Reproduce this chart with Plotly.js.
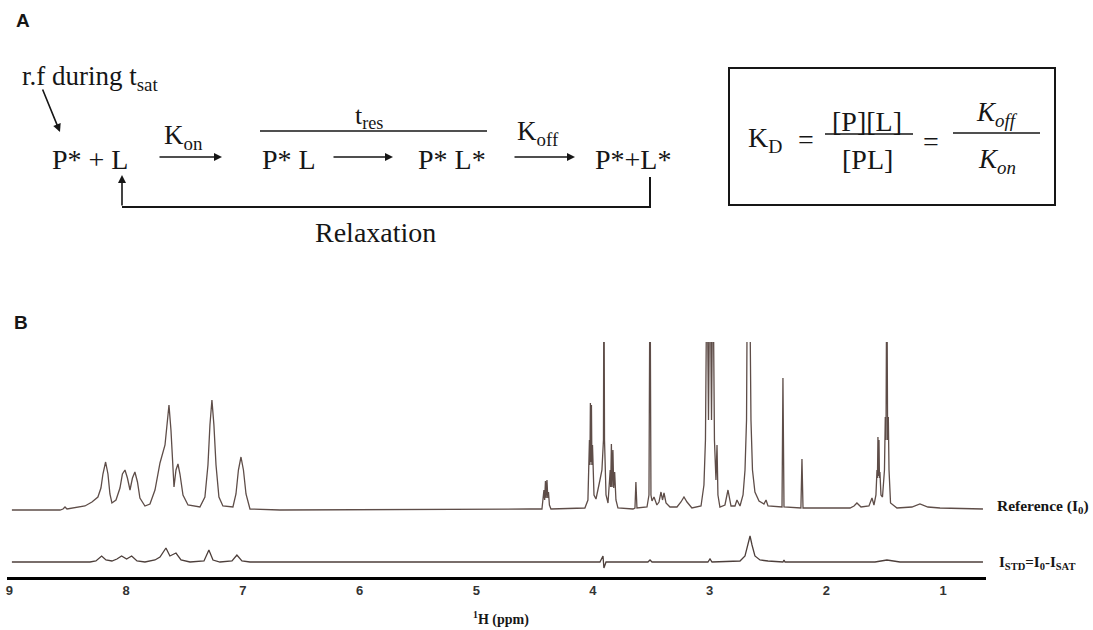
<!DOCTYPE html>
<html>
<head>
<meta charset="utf-8">
<script src="https://cdn.plot.ly/plotly-3.0.1.min.js"></script>
<style>html,body{margin:0;padding:0;background:#fff;}#chart{width:1093px;height:630px;}</style>
</head>
<body>
<div id="chart"></div>
<script>
// ---------- DATA (chemical shift in ppm, intensity) ----------
const refAromaticPpm = [8.979,8.567,8.541,8.524,8.507,8.353,8.293,8.242,8.216,8.199,8.176,8.156,8.139,8.122,8.087,8.053,8.032,8.010,7.989,7.967,7.946,7.925,7.903,7.882,7.839,7.796,7.753,7.710,7.667,7.650,7.633,7.616,7.590,7.573,7.556,7.539,7.513,7.470,7.368,7.325,7.299,7.282,7.265,7.248,7.230,7.205,7.171,7.085,7.059,7.038,7.016,6.995,6.973,6.939,6.682];
const refAromaticInt = [-1,-1,0,2,0,3,7,12,21,35,47,35,15,6,9,21,35,39,31,19,31,37,27,11,3,5,19,46,64,84,104,79,22,39,45,35,14,4,2,12,44,84,109,84,44,12,3,2,15,39,52,39,15,0,-1];

const refAliphaticPpm = [4.540,4.437,4.420,4.414,4.407,4.401,4.394,4.387,4.381,4.373,4.360,
 4.069,4.043,4.030,4.026,4.022,4.017,4.013,4.009,4.004,3.991,3.974,3.940,3.923,3.910,3.906,3.901,3.888,3.871,3.858,3.852,3.848,3.842,3.836,3.829,3.822,3.814,3.803,3.786,
 3.657,3.640,3.632,3.623,3.537,3.520,3.511,3.503,3.494,3.477,3.452,3.434,3.417,3.404,3.391,3.374,3.340,3.280,3.246,3.220,3.194,3.152,
 3.074,3.049,3.036,3.023,3.010,2.997,2.984,2.972,2.959,2.946,2.937,2.929,2.912,2.869,2.843,2.817,2.783,2.766,2.740,
 2.714,2.697,2.684,2.676,2.659,2.646,2.633,2.612,2.577,2.535,2.517,2.500,2.415,2.380,2.372,2.363,2.218,2.209,2.200,
 1.797,1.763,1.738,1.703,1.635,1.609,1.592,1.575,1.566,1.562,1.558,1.554,1.549,1.545,1.541,1.532,1.519,1.502,1.495,1.489,1.482,1.475,1.469,1.463,1.450,1.395,1.267,1.198,1.130,1.026,0.658];
const refAliphaticInt = [0,0,19,9,28,11,29,11,17,4,0,
 1,9,69,44,106,47,104,44,64,14,10,29,39,69,260,69,14,6,24,39,22,65,22,59,21,37,9,1,
 0,1,27,1,2,14,260,14,8,12,4,7,17,9,16,6,2,2,7,12,7,1,
 3,24,69,260,89,260,89,260,69,29,64,14,2,4,19,3,3,9,3,
 14,39,89,260,260,89,39,17,8,5,9,3,2,2,131,2,1,50,1,
 1,3,6,2,3,11,4,14,39,31,72,33,69,31,37,14,12,39,92,69,260,69,92,39,6,1,2,5,2,1,0];

const stdPpm = [8.979,8.310,8.259,8.210,8.173,8.122,8.079,8.039,7.996,7.953,7.907,7.839,7.753,7.710,7.659,7.625,7.573,7.530,7.453,7.333,7.291,7.256,7.196,7.093,7.051,7.008,6.939,3.940,3.914,3.906,3.888,3.529,3.511,3.494,3.015,2.997,2.980,2.740,2.697,2.671,2.654,2.637,2.612,2.569,2.500,2.372,2.363,2.354,1.583,1.481,1.369,0.658];
const stdInt = [0,0,1,6,2,1,3,6,3,6,1,0,2,5,14,6,9,2,0,1,12,2,0,1,7,1,0,0,6,-6,0,0,2,0,0,3,0,1,6,17,26,17,6,2,1,0,2,0,0,2,0,0];

const tickValues = [9,8,7,6,5,4,3,2,1];
const tickLabels = ['9','8','7','6','5','4','3','2','1'];
const seriesNames = ['Reference (I<sub>0</sub>)', 'I<sub>STD</sub>=I<sub>0</sub>-I<sub>SAT</sub>'];

// ---------- LAYOUT HELPERS ----------
const W = 1093, H = 630;
const px = x => x / W;
const py = y => 1 - y / H;
const SERIF = 'Liberation Serif, Times New Roman, serif';
const SANS = 'Liberation Sans, Arial, sans-serif';
const INK = '#161616';

function txt(t, x, y, size, opts) {
  opts = opts || {};
  return Object.assign({
    text: t, xref: 'paper', yref: 'paper', x: px(x), y: py(y),
    xanchor: 'left', yanchor: 'middle', showarrow: false,
    font: {family: SERIF, size: size, color: INK}
  }, opts);
}
function arrow(hx, hy, ax, ay) {
  return {text: '', xref: 'paper', yref: 'paper', x: px(hx), y: py(hy),
    ax: ax, ay: ay, showarrow: true, arrowhead: 2, arrowsize: 1, arrowwidth: 1.6,
    arrowcolor: INK, standoff: 0, startstandoff: 0};
}
function seg(x0, y0, x1, y1, w) {
  return {type: 'line', xref: 'paper', yref: 'paper', x0: px(x0), y0: py(y0), x1: px(x1), y1: py(y1),
    line: {color: INK, width: w || 1.6}};
}

const refPpm = refAromaticPpm.concat(refAliphaticPpm);
const refInt = refAromaticInt.concat(refAliphaticInt);

const traces = [
  {x: refPpm, y: refInt, type: 'scatter', mode: 'lines', xaxis: 'x', yaxis: 'y',
   line: {color: '#5e4d48', width: 1.3}, hoverinfo: 'skip', name: 'Reference'},
  {x: stdPpm, y: stdInt, type: 'scatter', mode: 'lines', xaxis: 'x', yaxis: 'y2',
   line: {color: '#4d3f3b', width: 1.3}, hoverinfo: 'skip', name: 'STD'}
];

const annotations = [
  txt('A', 14, 20, 19, {font: {family: SANS, size: 19, color: INK, weight: 'bold'}}),
  txt('B', 12, 322, 19, {font: {family: SANS, size: 19, color: INK, weight: 'bold'}}),
  txt('r.f during t<sub>sat</sub>', 20, 78, 27),
  txt('P* + L', 50, 159, 28),
  txt('K<sub>on</sub>', 162, 137, 27),
  txt('P* L', 260, 159, 28),
  txt('t<sub>res</sub>', 353, 117, 26),
  txt('P* L*', 416, 159, 28),
  txt('K<sub>off</sub>', 515, 133, 27),
  txt('P*+L*', 593, 159, 28),
  txt('Relaxation', 313, 232, 28),
  txt('K<sub>D</sub>', 746, 139, 28),
  txt('=', 806, 139, 28, {xanchor: 'center'}),
  txt('[P][L]', 867, 122, 28, {xanchor: 'center'}),
  txt('[PL]', 867, 159, 28, {xanchor: 'center'}),
  txt('=', 931, 141, 28, {xanchor: 'center'}),
  txt('<i>K<sub>off</sub></i>', 997, 114, 27, {xanchor: 'center'}),
  txt('<i>K<sub>on</sub></i>', 997, 161, 27, {xanchor: 'center'}),
  arrow(60, 132, -18, -44),
  arrow(222, 157, -64, 0),
  arrow(393, 157, -61, 0),
  arrow(575, 157, -62, 0),
  arrow(122, 175, 0, 32),
  txt('<b>' + seriesNames[0] + '</b>', 995, 506, 15.5),
  txt('<b>' + seriesNames[1] + '</b>', 997, 563, 15),
  txt('<b><sup>1</sup>H (ppm)</b>', 501, 618, 14, {xanchor: 'center'})
];

const shapes = [
  seg(260, 131, 487, 131, 1.6),
  seg(122, 207, 651, 207, 2),
  seg(650, 177, 650, 207, 2),
  {type: 'rect', xref: 'paper', yref: 'paper', x0: px(729), y0: py(205), x1: px(1055), y1: py(68),
   line: {color: INK, width: 2}, fillcolor: 'rgba(0,0,0,0)'},
  seg(825, 134, 913, 134, 1.5),
  seg(953, 133, 1040, 133, 1.5)
];

const layout = {
  width: W, height: H,
  margin: {l: 0, r: 0, t: 0, b: 0},
  paper_bgcolor: '#ffffff', plot_bgcolor: 'rgba(0,0,0,0)',
  showlegend: false,
  xaxis: {
    domain: [px(7), px(986)], range: [9.021, 0.632],
    anchor: 'free', position: py(577.5),
    showgrid: false, zeroline: false, showline: true, linewidth: 3, linecolor: '#000',
    ticks: '', tickvals: tickValues, ticktext: tickLabels,
    tickfont: {family: SANS, size: 13, color: '#333', weight: 'bold'},
    fixedrange: true
  },
  yaxis: {domain: [py(520), py(342)], range: [-11, 167], visible: false, fixedrange: true},
  yaxis2: {domain: [py(572), py(522)], range: [-10, 40], visible: false, fixedrange: true, anchor: 'x'},
  annotations: annotations,
  shapes: shapes
};

Plotly.newPlot('chart', traces, layout, {staticPlot: true, displayModeBar: false});
</script>
</body>
</html>
